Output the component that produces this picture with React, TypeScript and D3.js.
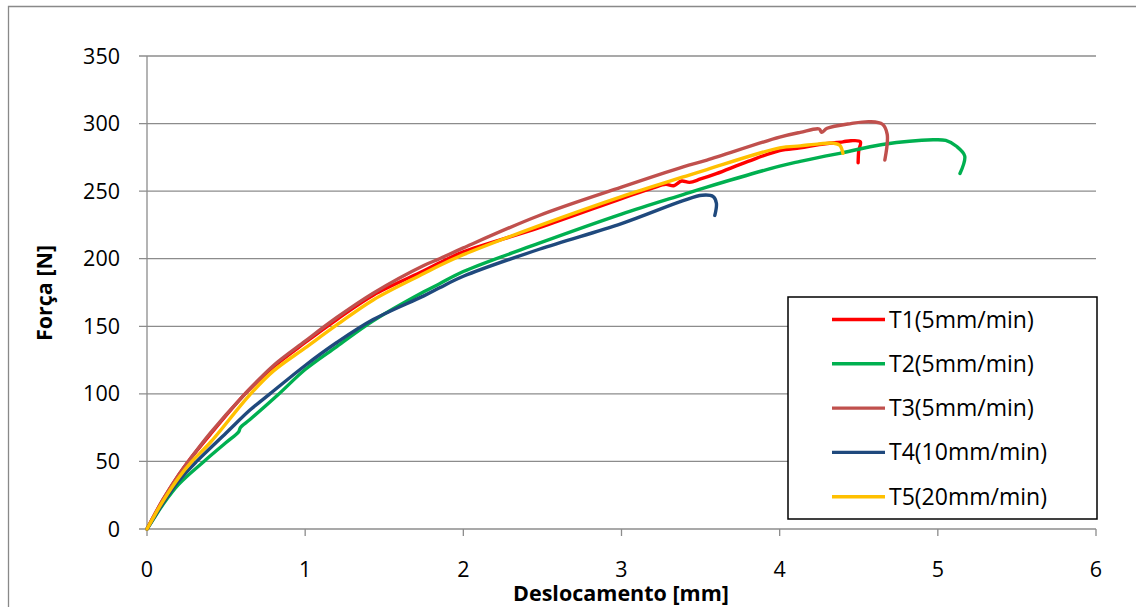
import React from "react";
import * as d3 from "d3";

// ---- Data ----
const xTicks = [0, 1, 2, 3, 4, 5, 6];
const yTicks = [0, 50, 100, 150, 200, 250, 300, 350];

const seriesNames = ["T1(5mm/min)", "T2(5mm/min)", "T3(5mm/min)", "T4(10mm/min)", "T5(20mm/min)"];
const seriesColors = ["#FF0000", "#00B050", "#C0504D", "#1F497D", "#FFC000"];

const t1X = [0, 0.05, 0.1, 0.2, 0.261, 0.4, 0.62, 0.8, 1.0, 1.2, 1.43, 1.75, 1.85, 2.0, 2.48, 3.0, 3.2, 3.28, 3.33, 3.38, 3.43, 3.5, 3.6, 3.8, 4.0, 4.13, 4.25, 4.4, 4.45, 4.51, 4.5, 4.496];
const t1F = [0, 11, 21.5, 40, 50, 70, 100, 120, 138, 155, 173, 191, 197, 205, 223, 244.5, 252.5, 255, 254, 257.5, 256.5, 259, 263, 272, 280, 282, 284.5, 286.5, 287.3, 286.6, 280, 271];

const t2X = [0, 0.05, 0.1, 0.2, 0.36, 0.5, 0.58, 0.59, 0.651, 0.83, 1.0, 1.2, 1.43, 1.75, 1.85, 2.0, 2.48, 3.0, 3.39, 3.54, 4.0, 4.13, 4.25, 4.38, 4.65, 4.97, 5.05, 5.12, 5.17, 5.14];
const t2F = [0, 9, 18, 33, 50, 64, 72, 75, 81, 99.5, 118, 135, 154, 175.5, 181.5, 190.5, 211.5, 233, 247.5, 253, 268.5, 272, 275, 278, 284.5, 288, 287.5, 283, 276, 263];

const t3X = [0, 0.05, 0.1, 0.2, 0.261, 0.4, 0.62, 0.8, 1.0, 1.2, 1.43, 1.75, 1.85, 2.0, 2.48, 3.0, 3.39, 3.54, 4.0, 4.13, 4.25, 4.265, 4.3, 4.45, 4.57, 4.65, 4.68, 4.665];
const t3F = [0, 11, 21.5, 40, 50, 71, 100, 121, 139, 156.5, 174.5, 195, 200, 208, 232, 253, 268, 273, 290, 293.5, 296, 293.5, 296.5, 300, 301.4, 299.5, 292, 273];

const t4X = [0, 0.05, 0.1, 0.2, 0.314, 0.5, 0.651, 0.777, 1.0, 1.2, 1.43, 1.75, 1.85, 2.0, 2.48, 3.0, 3.39, 3.51, 3.58, 3.6, 3.59];
const t4F = [0, 9.5, 19, 35.5, 50, 71, 88, 100, 121, 138, 155, 172.5, 178.5, 187, 207, 226, 243, 247, 246, 241, 232];

const t5X = [0, 0.05, 0.1, 0.2, 0.284, 0.4, 0.655, 0.8, 1.0, 1.2, 1.43, 1.75, 1.85, 2.0, 2.48, 3.0, 3.39, 3.54, 4.0, 4.13, 4.25, 4.34, 4.38, 4.4];
const t5F = [0, 10.5, 20.5, 38, 50, 64, 100, 117, 134, 151, 169.5, 189, 195, 203, 224.5, 246, 260.5, 266, 282, 283.5, 285, 285.5, 284, 278];

const seriesX = [t1X, t2X, t3X, t4X, t5X];
const seriesF = [t1F, t2F, t3F, t4F, t5F];

const xTitle = "Deslocamento [mm]";
const yTitle = "Força [N]";

// ---- Layout ----
const W = 1136;
const H = 607;
const FONT = "'Open Sans', 'DejaVu Sans', sans-serif";

export default function App() {
  const x = d3.scaleLinear().domain([0, 6]).range([147, 1096]);
  const y = d3.scaleLinear().domain([0, 350]).range([529, 56]);

  const line = d3
    .line<[number, number]>()
    .x((d) => x(d[0]))
    .y((d) => y(d[1]))
    .curve(d3.curveCatmullRom.alpha(0.5));

  const grid = "#8C8C8C";

  const legendX = 788;
  const legendY = 297;
  const legendW = 309;
  const legendH = 222;
  const rowY0 = 319.5;
  const rowStep = 44.3;

  return (
    <svg
      width={W}
      height={H}
      style={{ position: "absolute", left: 0, top: 0, background: "#fff" }}
      fontFamily={FONT}
    >
      <rect x={0} y={0} width={W} height={H} fill="#fff" />
      {/* outer chart border */}
      <path d={`M8.5,${H + 2} V6.5 H${W + 2}`} fill="none" stroke="#898989" strokeWidth={1.3} />

      {/* horizontal gridlines */}
      {yTicks.map((t) => (
        <line key={"g" + t} x1={x(0) - 8} x2={x(6)} y1={y(t)} y2={y(t)} stroke={grid} strokeWidth={1.3} />
      ))}
      {/* y axis line */}
      <line x1={x(0)} x2={x(0)} y1={y(350)} y2={y(0)} stroke={grid} strokeWidth={1.3} />
      {/* x ticks */}
      {xTicks.map((t) => (
        <line key={"xt" + t} x1={x(t)} x2={x(t)} y1={y(0)} y2={y(0) + 7} stroke={grid} strokeWidth={1.3} />
      ))}

      {/* y tick labels */}
      {yTicks.map((t) => (
        <text key={"yl" + t} x={120} y={y(t) + 7.5} textAnchor="end" fontSize={21.5} fill="#000">
          {t}
        </text>
      ))}
      {/* x tick labels */}
      {xTicks.map((t) => (
        <text key={"xl" + t} x={x(t)} y={577} textAnchor="middle" fontSize={21.5} fill="#000">
          {t}
        </text>
      ))}

      {/* series */}
      {seriesX.map((xs, i) => {
        const pts = xs.map((v, j) => [v, seriesF[i][j]] as [number, number]);
        return (
          <path
            key={"s" + i}
            d={line(pts) || ""}
            fill="none"
            stroke={seriesColors[i]}
            strokeWidth={3.4}
            strokeLinejoin="round"
            strokeLinecap="round"
          />
        );
      })}

      {/* axis titles */}
      <text x={621} y={601} textAnchor="middle" fontSize={21.5} fontWeight="bold" fill="#000">
        {xTitle}
      </text>
      <text
        transform={`translate(52,293) rotate(-90)`}
        textAnchor="middle"
        fontSize={21.5}
        fontWeight="bold"
        fill="#000"
      >
        {yTitle}
      </text>

      {/* legend */}
      <rect x={legendX} y={legendY} width={legendW} height={legendH} fill="#fff" stroke="#000" strokeWidth={1.5} />
      {seriesNames.map((n, i) => {
        const cy = rowY0 + i * rowStep;
        return (
          <g key={"l" + i}>
            <line x1={832} x2={885} y1={cy} y2={cy} stroke={seriesColors[i]} strokeWidth={3.4} />
            <text x={889} y={cy + 8} fontSize={23} fill="#000">
              {n}
            </text>
          </g>
        );
      })}
    </svg>
  );
}
